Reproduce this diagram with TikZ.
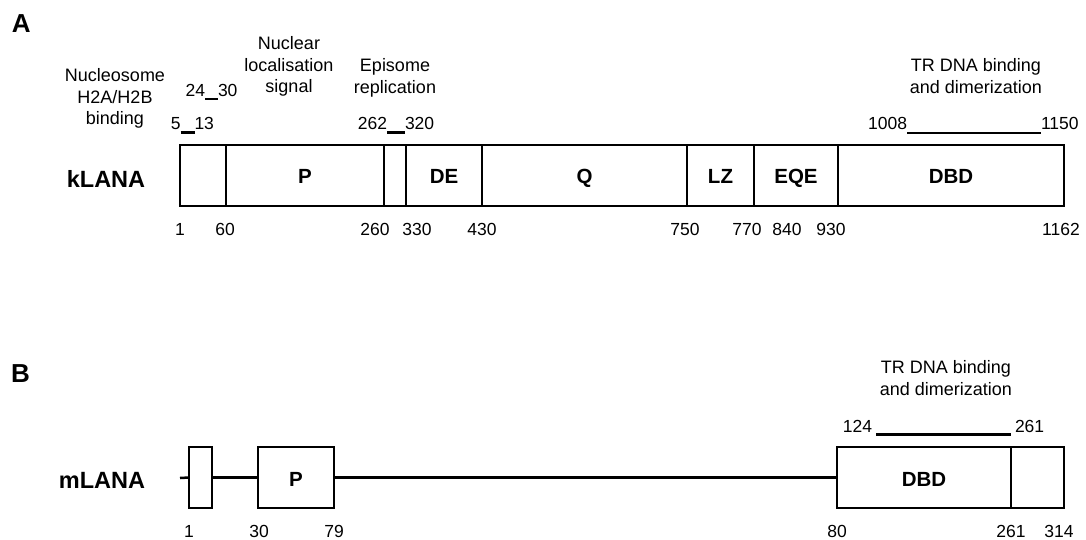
\documentclass[tikz,border=0pt]{standalone}
\usepackage{fontspec}
\setmainfont{Liberation Sans}
\begin{document}
\begin{tikzpicture}[x=1pt,y=-1pt,
  every node/.style={inner sep=0pt, outer sep=0pt},
  num/.style={font=\fontsize{17.5}{21.5}\selectfont, anchor=base},
  txt/.style={font=\fontsize{18}{21.5}\selectfont, align=center, anchor=base},
  panel/.style={font=\fontsize{26}{30}\selectfont\bfseries, anchor=base west},
  protname/.style={font=\fontsize{23.5}{27}\selectfont\bfseries, anchor=base},
  segA/.style={draw, line width=2pt, minimum height=60pt, text height=17pt, text depth=0pt,
    font=\fontsize{20.5}{24}\selectfont\bfseries},
  segB/.style={draw, line width=2pt, minimum height=61pt, text height=18pt, text depth=0pt,
    font=\fontsize{20.5}{24}\selectfont\bfseries, fill=white},
  bar/.style={line width=2.5pt},
  backbone/.style={line width=2.5pt}
]
\useasboundingbox (0,0) rectangle (1086,540);

% ---------------- Panel A ----------------
\node[panel] (pA) at (12,33) {A};
\node[protname] (kname) at (106,188) {kLANA};

\node[segA, minimum width=46pt]  (a1)  at (203,175.5) {};
\node[segA, minimum width=158pt] (aP)  at (305,175.5) {P};
\node[segA, minimum width=22pt]  (a3)  at (395,175.5) {};
\node[segA, minimum width=76pt]  (aDE) at (444,175.5) {DE};
\node[segA, minimum width=205pt] (aQ)  at (584.5,175.5) {Q};
\node[segA, minimum width=67pt]  (aLZ) at (720.5,175.5) {LZ};
\node[segA, minimum width=84pt]  (aEQE) at (796,175.5) {EQE};
\node[segA, minimum width=226pt] (aDBD) at (951,175.5) {DBD};

% numbers below kLANA
\node[num] (l1)    at (180,235) {1};
\node[num] (l60)   at (225,235) {60};
\node[num] (l260)  at (375,235) {260};
\node[num] (l330)  at (417,235) {330};
\node[num] (l430)  at (482,235) {430};
\node[num] (l750)  at (685,235) {750};
\node[num] (l770)  at (747,235) {770};
\node[num] (l840)  at (787,235) {840};
\node[num] (l930)  at (831,235) {930};
\node[num] (l1162) at (1061,235) {1162};

% feature labels above kLANA (base = baseline of last line)
\node[txt] (tNuc) at (115,125) {Nucleosome\\H2A/H2B\\binding};
\node[txt] (tNLS) at (289,93) {Nuclear\\localisation\\signal};
\node[txt] (tEpi) at (395,93.5) {Episome\\replication};
\node[txt] (tTRa) at (976,93.5) {TR DNA binding\\and dimerization};

\node[num, anchor=base east] (n5)   at (180.5,130) {5};
\node[num, anchor=base west] (n13)  at (194.5,130) {13};
\draw[bar] ([yshift=-2.5pt]n5.base east) -- ([yshift=-2.5pt]n13.base west);

\node[num, anchor=base east] (n24)  at (205,97) {24};
\node[num, anchor=base west] (n30)  at (218,97) {30};
\draw[bar] ([yshift=-2pt]n24.base east) -- ([yshift=-2pt]n30.base west);

\node[num, anchor=base east] (n262) at (387,130) {262};
\node[num, anchor=base west] (n320) at (405,130) {320};
\draw[bar] ([yshift=-2.5pt]n262.base east) -- ([yshift=-2.5pt]n320.base west);

\node[num, anchor=base east] (n1008) at (907,130) {1008};
\node[num, anchor=base west] (n1150) at (1041,130) {1150};
\draw[bar] ([yshift=-3pt]n1008.base east) -- ([yshift=-3pt]n1150.base west);

% ---------------- Panel B ----------------
\node[panel] (pB) at (11,382) {B};
\node[protname] (mname) at (102,488) {mLANA};

\coordinate (mstart) at (180,478);
\node[segB, minimum width=23pt]  (bS)   at (200.5,477.5) {};
\node[segB, minimum width=76pt]  (bP)   at (296,477.5) {P};
\node[segB, minimum width=174pt] (bDBD) at (924,477.5) {DBD};
\node[segB, minimum width=53pt]  (bE)   at (1037.5,477.5) {};

\draw[backbone] (mstart) -- (bS.west);
\draw[backbone] (bS.east) -- (bP.west);
\draw[backbone] (bP.east) -- (bDBD.west);

\node[num] (m1)   at (189,537) {1};
\node[num] (m30)  at (259,537) {30};
\node[num] (m79)  at (334,537) {79};
\node[num] (m80)  at (837,537) {80};
\node[num] (m261) at (1011,537) {261};
\node[num] (m314) at (1059,537) {314};

\node[txt] (tTRb) at (946,395) {TR DNA binding\\and dimerization};
\node[num, anchor=base east] (n124)  at (872,432) {124};
\node[num, anchor=base west] (n261t) at (1015,432) {261};
\draw[bar, line width=3pt] ([xshift=4pt,yshift=-2.5pt]n124.base east) -- ([xshift=-4pt,yshift=-2.5pt]n261t.base west);
\end{tikzpicture}
\end{document}
